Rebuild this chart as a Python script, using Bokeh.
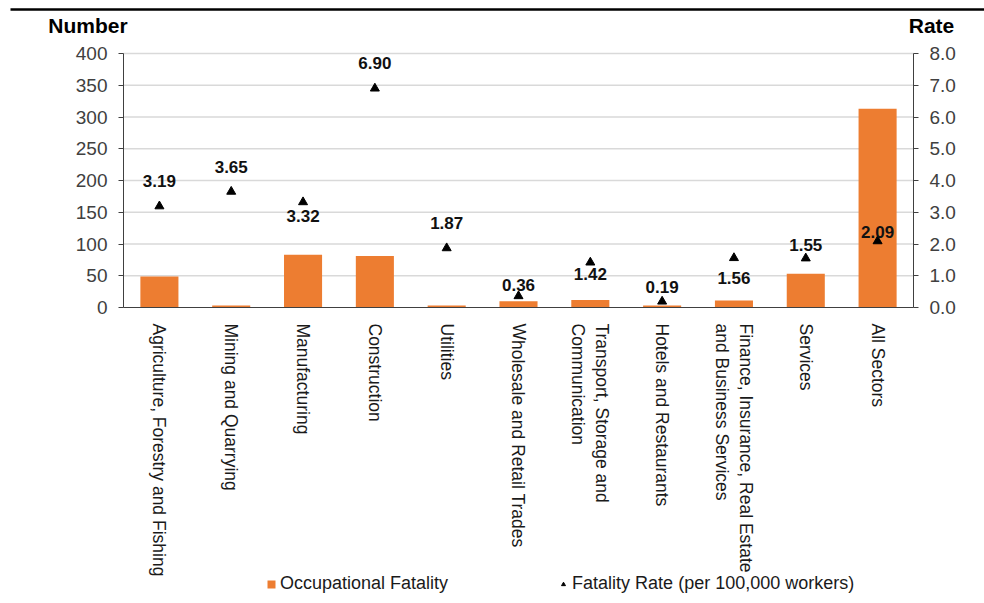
from bokeh.plotting import figure
from bokeh.models import (ColumnDataSource, Range1d, LinearAxis, LabelSet, Label,
                          Legend, LegendItem, FixedTicker, NumeralTickFormatter)
from bokeh.embed import file_html
from bokeh.resources import INLINE
from bokeh.core.properties import value

sectors = [
    "Agriculture, Forestry and Fishing",
    "Mining and Quarrying",
    "Manufacturing",
    "Construction",
    "Utilities",
    "Wholesale and Retail Trades",
    "Transport, Storage and\nCommunication",
    "Hotels and Restaurants",
    "Finance, Insurance, Real Estate\nand Business Services",
    "Services",
    "All Sectors",
]
fatalities = [49, 3, 83, 81, 3, 10, 12, 3, 11, 53, 313]
rates = [3.19, 3.65, 3.32, 6.90, 1.87, 0.36, 1.42, 0.19, 1.56, 1.55, 2.09]
number_ticks = [0, 50, 100, 150, 200, 250, 300, 350, 400]
rate_ticks = [0, 1, 2, 3, 4, 5, 6, 7, 8]
left_title = "Number"
right_title = "Rate"
series_names = ["Occupational Fatality", "Fatality Rate (per 100,000 workers)"]

# label placement (screen px, + = up)
label_dy = [25, 25, -14, 25, 25, 11, -12, 14, -20, 13, 9]

# ---- layout (pixels of the 984x603 page) ----
W, H = 984, 603
FX0, FX1 = 123, 913      # plot area left / right
FY0, FY1 = 53, 307       # plot area top / bottom
FONT = "Liberation Sans"
ORANGE = "#ED7D31"
AX_COL = "#404040"

n = len(sectors)
xs = [i + 0.5 for i in range(n)]
ux = (FX1 - FX0) / n                       # px per category
uy = (FY1 - FY0) / number_ticks[-1]        # px per count unit
rate_scale = rate_ticks[-1] / number_ticks[-1]


def px_x(px):
    return (px - FX0) / ux


def px_y(py):
    return (FY1 - py) / uy


src = ColumnDataSource(dict(
    x=xs, n=fatalities, r=rates,
    rt=[f"{v:.2f}" for v in rates], dy=label_dy,
))

p = figure(width=W, height=H,
           x_range=Range1d(px_x(0), px_x(W)),
           y_range=Range1d(px_y(H), px_y(0)),
           output_backend="svg", toolbar_location=None,
           min_border=0, min_border_left=0, min_border_right=0,
           min_border_top=0, min_border_bottom=0)
p.extra_y_ranges = {"rate": Range1d(px_y(H) * rate_scale, px_y(0) * rate_scale)}
p.outline_line_color = None
p.background_fill_color = "white"
p.border_fill_color = "white"
p.xgrid.visible = False
p.ygrid.visible = False

# horizontal gridlines
gl = number_ticks[1:]
p.segment(x0=[0] * len(gl), x1=[n] * len(gl), y0=gl, y1=gl,
          line_color="#d9d9d9", line_width=1.5)

bars = p.vbar(x="x", top="n", width=0.53, source=src, color=ORANGE, line_color=None)
tri = p.scatter(x="x", y="r", source=src, y_range_name="rate", marker="triangle",
                size=9, color="black")

labels = LabelSet(x="x", y="r", text="rt", source=src, y_range_name="rate",
                  y_offset="dy", text_align="center", text_baseline="middle",
                  text_font=value(FONT), text_font_style="bold",
                  text_font_size="17px", text_color="#111111")
p.add_layout(labels)

# ---- axes ----
ya = p.yaxis[0]
ya.ticker = FixedTicker(ticks=number_ticks)
ya.fixed_location = 0
ya.bounds = (number_ticks[0], number_ticks[-1])
ya.axis_line_color = AX_COL
ya.major_tick_line_color = AX_COL
ya.major_tick_in = 0
ya.major_tick_out = 5
ya.minor_tick_line_color = None
ya.major_label_text_font = FONT
ya.major_label_text_font_size = "19px"
ya.major_label_text_color = "#404040"
ya.major_label_standoff = 11

r_ax = LinearAxis(y_range_name="rate", ticker=FixedTicker(ticks=rate_ticks),
                  formatter=NumeralTickFormatter(format="0.0"))
r_ax.fixed_location = n
r_ax.bounds = (rate_ticks[0], rate_ticks[-1])
r_ax.axis_line_color = AX_COL
r_ax.major_tick_line_color = AX_COL
r_ax.major_tick_in = 0
r_ax.major_tick_out = 5
r_ax.minor_tick_line_color = None
r_ax.major_label_text_font = FONT
r_ax.major_label_text_font_size = "19px"
r_ax.major_label_text_color = "#404040"
r_ax.major_label_standoff = 11
p.add_layout(r_ax, "right")

xa = p.xaxis[0]
xa.ticker = FixedTicker(ticks=xs)
xa.major_label_overrides = {x: s for x, s in zip(xs, sectors)}
xa.fixed_location = 0
xa.bounds = (0, n)
xa.axis_line_color = AX_COL
xa.major_tick_line_color = None
xa.minor_tick_line_color = None
xa.major_label_orientation = -1.5708
xa.major_label_text_font = FONT
xa.major_label_text_font_size = "17.5px"
xa.major_label_text_color = "#1a1a1a"
xa.major_label_standoff = 10

# ---- header: rule and axis titles ----
p.segment(x0=[px_x(10)], x1=[px_x(W)], y0=[px_y(9)], y1=[px_y(9)],
          line_color="black", line_width=2.5)
p.add_layout(Label(x=px_x(87.5), y=px_y(25), text=left_title,
                   text_align="center", text_baseline="middle", text_font=FONT,
                   text_font_style="bold", text_font_size="21px", text_color="black"))
p.add_layout(Label(x=px_x(931), y=px_y(25), text=right_title,
                   text_align="center", text_baseline="middle", text_font=FONT,
                   text_font_style="bold", text_font_size="21px", text_color="black"))

# ---- legend ----
legend = Legend(items=[LegendItem(label=series_names[0], renderers=[bars]),
                       LegendItem(label=series_names[1], renderers=[tri])],
                orientation="horizontal", location=(266, 9),
                label_text_font=FONT, label_text_font_size="18px",
                label_text_color="#1a1a1a", glyph_width=10, glyph_height=10,
                spacing=110, border_line_color=None, background_fill_alpha=0,
                padding=2, margin=0, label_standoff=4)
p.add_layout(legend)

open("out.html", "w").write(file_html(p, INLINE))
